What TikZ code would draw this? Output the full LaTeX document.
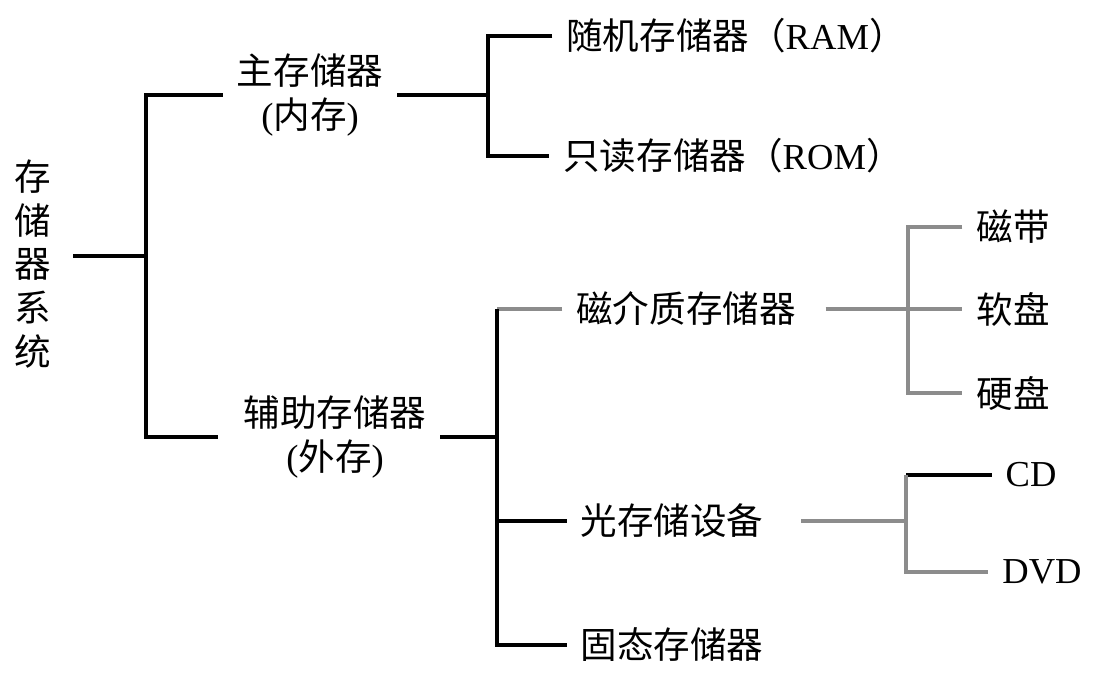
\documentclass[tikz,border=0pt]{standalone}
\usepackage{fontspec}
\setmainfont{Liberation Serif}
\newfontfamily\cjk{Noto Sans CJK SC}
\usetikzlibrary{positioning}
\definecolor{linegray}{gray}{0.55}
\newcommand{\lat}[1]{{\rmfamily #1}}

\begin{document}
\begin{tikzpicture}[node distance=2cm,on grid,
    lbl/.style={inner sep=0pt,outer xsep=0.35cm,align=center,
      font=\cjk\fontsize{26pt}{31pt}\selectfont},
    tree/.style={line width=2.3pt},
    faint/.style={tree,draw=linegray}]
  \useasboundingbox (-0.825,6.6) rectangle (26.975,-10.55);
  \node[lbl]  (root)                                          {存\\储\\器\\系\\统};
  \node[lbl]  (main)   [above right=4.225cm and 6.925cm of root] {主存储器\\\lat{(}内存\lat{)}};
  \node[lbl]  (aux)    [below right=4.325cm and 7.55cm of root]  {辅助存储器\\\lat{(}外存\lat{)}};
  \node[lbl]  (ram)    [above right=1.475cm and 10.65cm of main] {随机存储器（\lat{RAM}）};
  \node[lbl]  (rom)    [below right=1.525cm and 10.575cm of main] {只读存储器（\lat{ROM}）};
  \node[lbl]  (mag)    [above right=3.2cm and 8.775cm of aux]    {磁介质存储器};
  \node[lbl]  (opt)    [below right=2.1cm and 8.425cm of aux]    {光存储设备};
  \node[lbl]  (ssd)    [below=3.1cm of opt]                      {固态存储器};
  \node[lbl]  (floppy) [right=8.175cm of mag]                    {软盘};
  \node[lbl]  (tape)   [above=2.05cm of floppy]                  {磁带};
  \node[lbl]  (hdd)    [below=2.1cm of floppy]                   {硬盘};
  \node[lbl]  (cd)     [above right=1.15cm and 8.975cm of opt]   {\lat{CD}};
  \node[lbl]  (dvd)    [below right=1.275cm and 9.25cm of opt]   {\lat{DVD}};
  % junctions of the tree
  \coordinate[above right=0.2cm and 2.825cm of root] (j0);
  \coordinate[right=4.45cm of main] (j1);
  \coordinate[right=4.05cm of aux] (j2);
  \coordinate[right=5.55cm of mag] (j3);
  \coordinate[right=5.85cm of opt] (j4);
  \draw[tree,shorten <=0.2cm] (root.east |- j0) -- (j0);
  \draw[tree,shorten >=0.3cm] (main.west) -| (j0) |- (aux.west);
  \draw[tree] (main.east) -- (j1);
  \draw[tree] (ram.west) -| (j1) |- (rom.west);
  \draw[tree] (aux.east) -- (j2);
  \draw[faint] (mag.west) -- (mag.west -| j2);
  \draw[tree] (mag.west -| j2) |- (ssd.west);
  \draw[tree] (j2 |- opt.west) -- (opt.west);
  \draw[faint,shorten <=0.4cm] (mag.east) -- (j3);
  \draw[faint] (tape.west) -| (j3) |- (hdd.west);
  \draw[faint] (j3) -- (floppy.west);
  \draw[faint,shorten <=0.6cm] (opt.east) -- (j4);
  \draw[tree] (cd.west) -- (cd.west -| j4);
  \draw[faint] (cd.west -| j4) |- (dvd.west);
\end{tikzpicture}
\end{document}
